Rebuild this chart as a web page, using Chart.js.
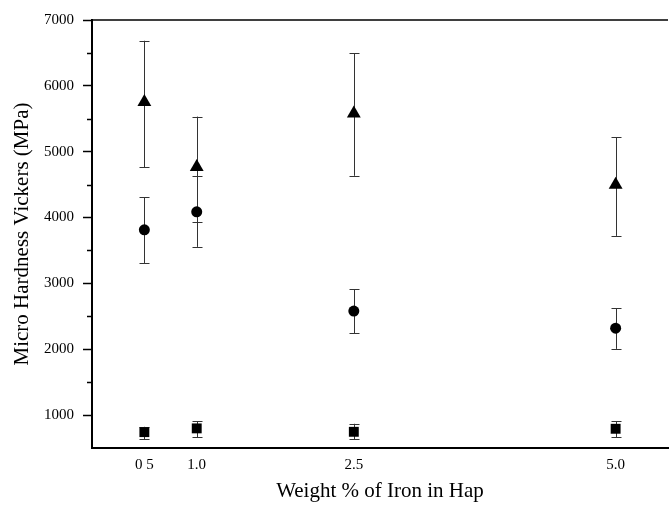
<!DOCTYPE html>
<html>
<head>
<meta charset="utf-8">
<script src="https://cdn.jsdelivr.net/npm/chart.js@4"></script>
<style>
  html, body { margin: 0; padding: 0; background: #fff; overflow: hidden; }
  #wrap { width: 676px; height: 507px; }
</style>
</head>
<body>
<div id="wrap"><canvas id="chart"></canvas></div>
<script>
// weight % of iron
const ironPct = [0.5, 1.0, 2.5, 5.0];
const xTickLabels = ["0 5", "1.0", "2.5", "5.0"];
const yTicks = [1000, 2000, 3000, 4000, 5000, 6000, 7000];
const yMinorTicks = [1500, 2500, 3500, 4500, 5500, 6500];

// triangles
const triMean = [5756, 4767, 5579, 4498];
const triLow = [4766, 3935, 4634, 3721];
const triHigh = [6685, 5533, 6497, 5223];
// circles
const circMean = [3813, 4087, 2579, 2320];
const circLow = [3310, 3554, 2239, 2005];
const circHigh = [4305, 4624, 2914, 2625];
// squares
const sqMean = [741, 798, 746, 792];
const sqLow = [630, 665, 630, 665];
const sqHigh = [822, 909, 868, 904];

const serif = "'Liberation Serif', 'DejaVu Serif', serif";

function pts(ys, lo, hi) {
  return ironPct.map((x, i) => ({ x: x, y: ys[i], lo: lo[i], hi: hi[i] }));
}

// error bars + minor ticks + top frame line
const extras = {
  id: "extras",
  beforeDatasetsDraw(chart) {
    const ctx = chart.ctx;
    const xs = chart.scales.x, ys = chart.scales.y;
    ctx.save();
    ctx.strokeStyle = "#333";
    ctx.lineWidth = 1;
    chart.data.datasets.forEach(ds => {
      ds.data.forEach(p => {
        const px = Math.round(xs.getPixelForValue(p.x)) + 0.5;
        const top = ys.getPixelForValue(p.hi);
        const bot = ys.getPixelForValue(p.lo);
        ctx.beginPath();
        ctx.moveTo(px, top); ctx.lineTo(px, bot);
        ctx.moveTo(px - 5, Math.round(top) + 0.5); ctx.lineTo(px + 5, Math.round(top) + 0.5);
        ctx.moveTo(px - 5, Math.round(bot) + 0.5); ctx.lineTo(px + 5, Math.round(bot) + 0.5);
        ctx.stroke();
      });
    });
    ctx.restore();
  },
  afterDraw(chart) {
    const ctx = chart.ctx;
    const a = chart.chartArea;
    const ys = chart.scales.y;
    ctx.save();
    ctx.strokeStyle = "#000";
    ctx.lineWidth = 1.5;
    ctx.beginPath();
    ctx.moveTo(a.left, a.top); ctx.lineTo(a.right, a.top);
    yMinorTicks.forEach(v => {
      const py = Math.round(ys.getPixelForValue(v)) + 0.5;
      ctx.moveTo(a.left - 5, py); ctx.lineTo(a.left, py);
    });
    ctx.stroke();
    ctx.restore();
  }
};

new Chart(document.getElementById("chart"), {
  type: "scatter",
  data: {
    datasets: [
      { label: "triangle", data: pts(triMean, triLow, triHigh), pointStyle: "triangle", pointRadius: 8, backgroundColor: "#000", borderColor: "#000", borderWidth: 0 },
      { label: "circle", data: pts(circMean, circLow, circHigh), pointStyle: "circle", pointRadius: 5.5, backgroundColor: "#000", borderColor: "#000", borderWidth: 0 },
      { label: "square", data: pts(sqMean, sqLow, sqHigh), pointStyle: "rect", pointRadius: 7, backgroundColor: "#000", borderColor: "#000", borderWidth: 0 }
    ]
  },
  options: {
    responsive: true,
    maintainAspectRatio: false,
    animation: false,
    layout: { padding: { top: 20, right: 3, bottom: 0, left: 0 } },
    plugins: { legend: { display: false }, tooltip: { enabled: false } },
    scales: {
      x: {
        type: "linear", min: 0, max: 5.5,
        afterBuildTicks: s => { s.ticks = ironPct.map(v => ({ value: v })); },
        afterFit: s => { s.height = 59; },
        ticks: {
          color: "#000", padding: 8, maxRotation: 0, autoSkip: false,
          font: { family: serif, size: 15 },
          callback: (v, i) => xTickLabels[i]
        },
        grid: { drawOnChartArea: false, drawTicks: false },
        border: { color: "#000", width: 2 },
        title: { display: true, text: "Weight % of Iron in Hap", color: "#000", font: { family: serif, size: 21 }, padding: { top: 2, bottom: 3 } }
      },
      y: {
        type: "linear", min: 500, max: 7000,
        afterBuildTicks: s => { s.ticks = yTicks.map(v => ({ value: v })); },
        afterFit: s => { s.width = 92; },
        ticks: { color: "#000", padding: 9, font: { family: serif, size: 15 }, callback: v => String(v) },
        grid: { drawOnChartArea: false, tickLength: 9, tickColor: "#000", tickWidth: 1.5 },
        border: { color: "#000", width: 2 },
        title: { display: true, text: "Micro Hardness Vickers (MPa)", color: "#000", font: { family: serif, size: 21 }, padding: { top: 10, bottom: 0 } }
      }
    }
  },
  plugins: [extras]
});
</script>
</body>
</html>
